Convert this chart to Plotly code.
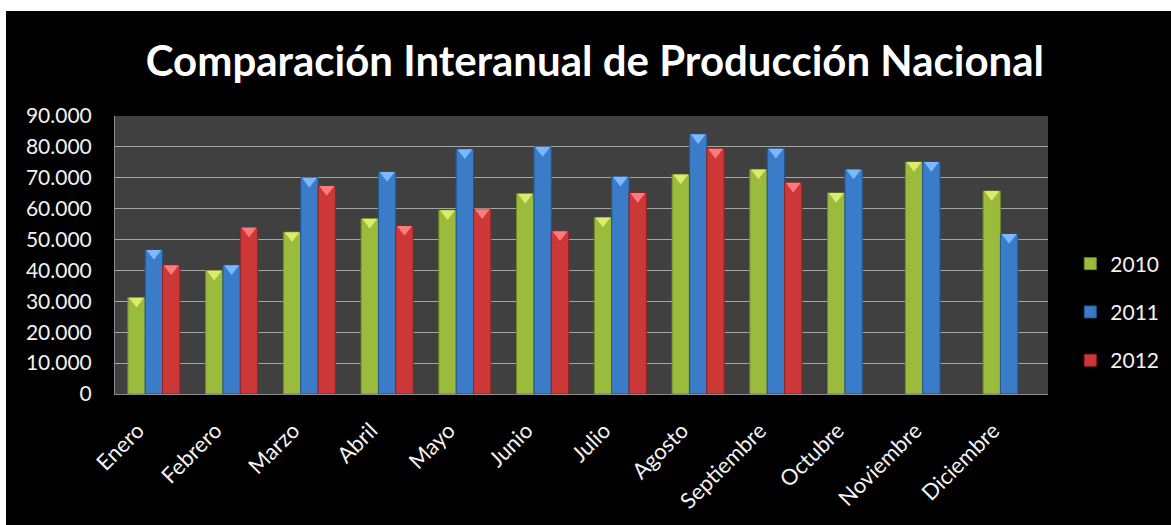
import plotly.graph_objects as go

# Monthly national production by year
months = ["Enero", "Febrero", "Marzo", "Abril", "Mayo", "Junio", "Julio",
          "Agosto", "Septiembre", "Octubre", "Noviembre", "Diciembre"]
prod_2010 = [31200, 39900, 52400, 56700, 59500, 64800, 57100, 71100, 72700, 65100, 75100, 65700]
prod_2011 = [46600, 41700, 70000, 71900, 79200, 80000, 70300, 84100, 79400, 72700, 75100, 51800]
prod_2012 = [41700, 53900, 67300, 54400, 59800, 52700, 65100, 79400, 68400, None, None, None]
years = ["2010", "2011", "2012"]
y_ticks = list(range(0, 90001, 10000))

# Styling
W, H = 1171, 525
M_L, M_R, M_T, M_B = 115, 123, 116, 131
FONT = "Lato"
TXT = "#f2f2f2"
body = {"2010": "#9abb3c", "2011": "#3a7cc8", "2012": "#cc3838"}
edge = {"2010": "#6e8a22", "2011": "#24558f", "2012": "#8f2222"}
cap = {"2010": "#dcec6a", "2011": "#7ab8ff", "2012": "#ff7a7a"}
BARGAP = 0.33
CAP_SIZE = 13

fig = go.Figure()
series = {"2010": prod_2010, "2011": prod_2011, "2012": prod_2012}
for yr in years:
    fig.add_trace(go.Bar(
        x=months, y=series[yr], name=yr, offsetgroup=yr,
        legendgroup=yr,
        marker=dict(color=body[yr], line=dict(color=edge[yr], width=1)),
    ))

# Bevelled caps on top of each bar, grouped the same way as the bars
for yr in years:
    fig.add_trace(go.Scatter(
        x=months, y=series[yr], mode="markers", yaxis="y2",
        offsetgroup=yr, showlegend=False, hoverinfo="skip",
        marker=dict(symbol="triangle-down", size=CAP_SIZE, color=cap[yr],
                    line=dict(width=0)),
    ))

plot_w = W - M_L - M_R
plot_h = H - M_T - M_B
y_max = y_ticks[-1]
cap_shift = (CAP_SIZE / 4) * y_max / plot_h

# paper-coordinate edges of the whole figure
fig_left = -M_L / plot_w
fig_right = (W - M_L) / plot_w
fig_top = (plot_h + M_T) / plot_h
fig_bottom = -M_B / plot_h

fig.update_layout(
    width=W, height=H, autosize=False,
    margin=dict(l=M_L, r=M_R, t=M_T, b=M_B, autoexpand=False),
    paper_bgcolor="#000000",
    plot_bgcolor="#404040",
    barmode="group", bargap=BARGAP, bargroupgap=0.0,
    scattermode="group", scattergap=BARGAP,
    separators=",.",
    font=dict(family=FONT, color=TXT),
    title=dict(
        text="<b>Comparación Interanual de Producción Nacional</b>",
        font=dict(family=FONT, size=42, color="#ffffff"),
        x=0.508, xanchor="center", xref="container",
        y=0.884, yanchor="middle", yref="container",
    ),
    xaxis=dict(
        tickangle=-45, tickfont=dict(family=FONT, size=22, color=TXT),
        showgrid=False, showline=True, linecolor="#8c8c8c", linewidth=1,
        ticks="", fixedrange=True, ticklabelstandoff=14, ticklabelshift=-16,
    ),
    yaxis=dict(
        range=[0, y_max], tickvals=y_ticks, tickformat=",",
        tickfont=dict(family=FONT, size=21, color=TXT),
        showgrid=True, gridcolor="#a6a6a6", gridwidth=1,
        showline=True, linecolor="#8c8c8c", linewidth=1,
        ticks="", ticklabelstandoff=18, zeroline=False,
    ),
    yaxis2=dict(
        overlaying="y", range=[cap_shift, y_max + cap_shift],
        visible=False, showgrid=False, zeroline=False,
    ),
    legend=dict(
        x=0.914, xanchor="left", xref="container",
        y=0.295, yanchor="middle",
        font=dict(family=FONT, size=21, color=TXT),
        bgcolor="rgba(0,0,0,0)", traceorder="grouped",
        tracegroupgap=18,
    ),
    showlegend=True,
    shapes=[
        # white page margin above and to the left of the black panel
        dict(type="rect", xref="paper", yref="paper",
             x0=fig_left, x1=fig_right,
             y0=(plot_h + M_T - 11) / plot_h, y1=fig_top,
             fillcolor="#ffffff", line=dict(width=0), layer="above"),
        dict(type="rect", xref="paper", yref="paper",
             x0=fig_left, x1=(6 - M_L) / plot_w,
             y0=fig_bottom, y1=fig_top,
             fillcolor="#ffffff", line=dict(width=0), layer="above"),
    ],
)

fig.write_html("out.html")
